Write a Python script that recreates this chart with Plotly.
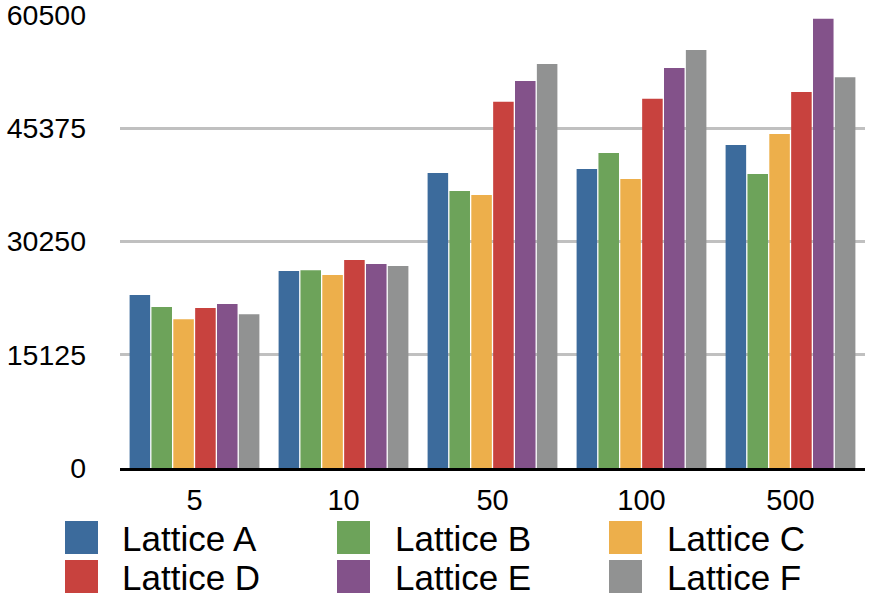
import plotly.graph_objects as go

categories = ["5", "10", "50", "100", "500"]
series_names = ["Lattice A", "Lattice B", "Lattice C", "Lattice D", "Lattice E", "Lattice F"]
lattice_a = [23090, 26300, 39400, 39940, 43150]
lattice_b = [21490, 26420, 37000, 42080, 39270]
lattice_c = [19880, 25760, 36460, 38600, 44620]
lattice_d = [21360, 27770, 48900, 49300, 50230]
lattice_e = [21890, 27240, 51700, 53430, 59990]
lattice_f = [20550, 26970, 53970, 55840, 52170]
y_tick_values = [0, 15125, 30250, 45375, 60500]
y_tick_labels = ["0", "15125", "30250", "45375", "60500"]

colors = ["#3C6B9C", "#6DA35A", "#EDAF4B", "#C8423E", "#83528A", "#919292"]
series_values = [lattice_a, lattice_b, lattice_c, lattice_d, lattice_e, lattice_f]

W, H = 869, 594
ML, MR, MT, MB = 120, 4, 15, 126
PW = W - ML - MR
PH = H - MT - MB
FONT = "Liberation Sans, Arial, Helvetica, sans-serif"

fig = go.Figure()
for name, vals, col in zip(series_names, series_values, colors):
    fig.add_trace(go.Bar(x=categories, y=vals, name=name, marker=dict(color=col, line=dict(width=0))))


def px_x(px):
    return (px - ML) / PW


def px_y(py):
    return (MT + PH - py) / PH


# custom legend (3 columns x 2 rows, large swatches)
col_swatch_x = [65, 337, 609]
col_text_x = [120, 393, 665]
row_top = [521, 560]
sw = 33
for i, (name, col) in enumerate(zip(series_names, colors)):
    r, c = divmod(i, 3)
    x0 = col_swatch_x[c]
    y0 = row_top[r]
    fig.add_shape(type="rect", xref="paper", yref="paper",
                  x0=px_x(x0), x1=px_x(x0 + sw), y0=px_y(y0 + sw), y1=px_y(y0),
                  fillcolor=col, line=dict(width=0))
    fig.add_annotation(xref="paper", yref="paper", x=px_x(col_text_x[c]), y=px_y(y0 + sw / 2 + 0.5),
                       text=name, showarrow=False, xanchor="left", yanchor="middle",
                       font=dict(family=FONT, size=35, color="#000000"))

fig.update_layout(
    width=W, height=H,
    margin=dict(l=ML, r=MR, t=MT, b=MB, autoexpand=False),
    paper_bgcolor="white", plot_bgcolor="white",
    barmode="group", bargap=0.12, bargroupgap=0.06,
    showlegend=False,
    font=dict(family=FONT, size=29, color="#000000"),
)
fig.update_xaxes(showline=True, linecolor="#000000", linewidth=2.5, showgrid=False,
                 ticks="", tickfont=dict(size=29), ticklabelstandoff=4, automargin=False)
fig.update_yaxes(range=[0, 60500], tickvals=y_tick_values, ticktext=y_tick_labels,
                 showgrid=True, gridcolor="#C0C0C0", gridwidth=2.5, zeroline=False,
                 showline=False, ticks="", tickfont=dict(size=28.5), ticklabelstandoff=33,
                 ticklabeloverflow="allow", automargin=False)

fig.write_html("out.html", config={"displayModeBar": False},
               post_script="document.body.style.margin='0';document.body.style.overflow='hidden';")
